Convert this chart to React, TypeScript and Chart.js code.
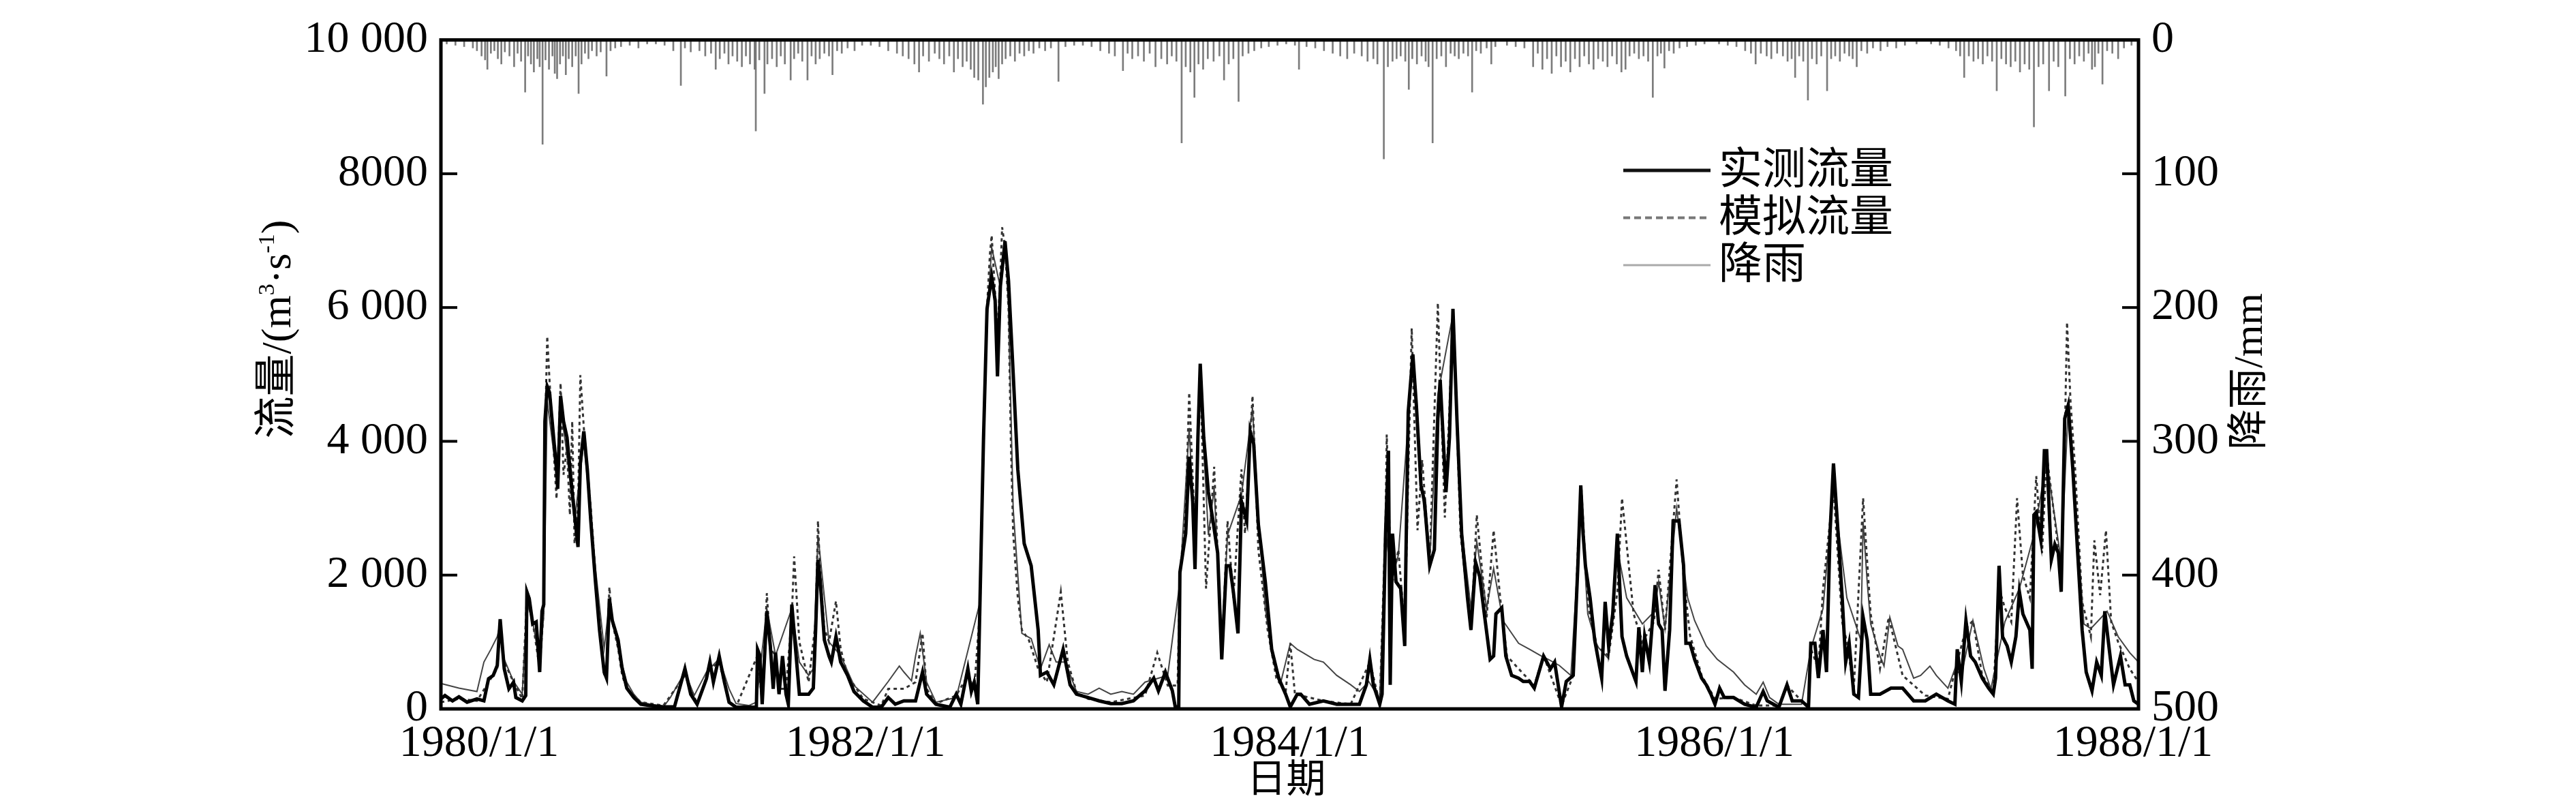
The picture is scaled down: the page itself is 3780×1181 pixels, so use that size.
import React, { useEffect, useRef } from 'react';
import { Chart, registerables } from 'chart.js';

Chart.register(...registerables);

// x = days since 1980/1/1
const xTickDays = [0, 731, 1461, 2192, 2922];
const xTickLabels = ['1980/1/1', '1982/1/1', '1984/1/1', '1986/1/1', '1988/1/1'];
const flowTicks = [0, 2000, 4000, 6000, 8000, 10000];
const flowTickLabels = ['0', '2 000', '4 000', '6 000', '8000', '10 000'];
const rainTicks = [0, 100, 200, 300, 400, 500];
const rainTickLabels = ['0', '100', '200', '300', '400', '500'];
const legendLabels = ['实测流量', '模拟流量', '降雨'];
const xTitle = '日期';
const rainTitle = '降雨/mm';

// 实测流量 [day, m3/s]
const observed = [
  [0,150],[7,200],[20,120],[31,180],[45,100],[62,150],[74,120],[82,450],[90,500],[97,650],[102,1340],[109,600],[117,300],[125,400],[129,170],[140,120],[146,200],[148,1750],[152,1650],[158,1270],[164,1300],[170,550],[174,1460],[177,1560],[179,4300],[183,4820],[187,4730],[199,3580],[201,3290],[206,4680],[211,4300],[217,4060],[226,3240],[236,2420],[240,3670],[246,4150],[252,3580],[258,2810],[266,1900],[273,1180],[281,550],[285,460],[290,1650],[295,1320],[305,1030],[312,600],[320,310],[332,170],[344,70],[359,50],[383,30],[402,30],[420,600],[430,220],[441,70],[457,450],[463,700],[469,400],[479,790],[488,400],[496,100],
  [508,25],[543,25],[545,890],[549,800],[553,70],[561,1460],[567,940],[572,300],[576,840],[582,220],[588,790],[594,220],[598,70],[604,1560],[610,940],[617,220],[633,220],[641,310],[645,1180],[649,2230],[653,1900],[660,1030],[668,790],[672,700],[680,1080],[688,700],[700,500],[711,260],[727,120],[743,25],[758,25],[770,170],[782,70],[797,120],[817,120],[829,550],[836,220],[852,70],[876,25],[887,220],[895,70],[907,600],[913,260],[918,400],[924,70],[928,1650],[934,4060],[940,5980],[948,6460],[954,6100],[958,4970],[963,6320],[971,6990],[977,6400],
  [985,5020],[993,3580],[1004,2470],[1016,2140],[1028,1180],[1032,500],[1043,550],[1055,360],[1071,890],[1083,360],[1094,220],[1114,170],[1133,120],[1153,80],[1172,80],[1192,120],[1212,270],[1227,460],[1235,270],[1247,550],[1259,270],[1264,30],[1270,30],[1272,2040],[1282,2620],[1288,3770],[1294,3100],[1298,2090],[1303,4060],[1307,5160],[1313,4060],[1321,3240],[1329,2810],[1337,2330],[1344,740],[1352,2140],[1358,2140],[1364,1750],[1372,1130],[1378,3100],[1387,2810],[1393,4150],[1399,3960],[1407,2760],[1419,1900],[1430,890],[1442,460],[1454,220],[1462,30],[1474,220],
  [1480,220],[1495,70],[1519,120],[1542,70],[1566,70],[1581,70],[1593,360],[1599,740],[1605,360],[1616,70],[1620,220],[1626,2620],[1631,3860],[1634,360],[1638,2620],[1644,1900],[1652,1800],[1659,940],[1661,2230],[1665,4440],[1673,5300],[1679,4540],[1687,3340],[1693,3100],[1702,2140],[1710,2380],[1716,4340],[1720,4920],[1730,3240],[1736,4060],[1742,5980],[1749,4300],[1757,2620],[1767,1660],[1773,1180],[1781,2190],[1788,1980],[1796,1420],[1806,740],[1812,790],[1816,1420],[1826,1510],[1833,790],[1843,500],[1855,460],[1863,410],[1874,410],[1882,310],[1898,790],[1910,600],[1917,700],[1929,30],[1937,410],[1949,500],[1957,2140],[1962,3340],[1966,2620],
  [1970,2140],[1978,1660],[1986,1030],[1998,460],[2004,1600],[2010,940],[2017,1420],[2025,2620],[2033,1080],[2041,790],[2049,600],[2057,410],[2062,1220],[2068,550],[2072,1080],[2080,700],[2090,1850],[2096,1270],[2102,1180],[2107,270],[2115,1180],[2121,2810],[2131,2810],[2139,2140],[2143,980],[2150,980],[2158,740],[2170,460],[2178,360],[2186,220],[2193,70],[2201,310],[2209,170],[2225,170],[2244,70],[2264,25],[2276,260],[2283,120],[2303,25],[2317,360],[2326,120],[2342,120],[2354,25],[2358,980],[2365,980],[2371,460],[2379,1180],[2385,550],[2391,2620],[2397,3670],[2405,2620],[2412,1660],[2418,700],[2424,980],[2432,220],[2440,170],[2448,1370],[2455,1030],
  [2461,220],[2477,220],[2496,310],[2516,310],[2535,120],[2555,120],[2574,220],[2594,120],[2606,70],[2610,890],[2617,410],[2625,1320],[2633,790],[2641,700],[2653,460],[2664,310],[2672,220],[2676,460],[2682,2140],[2688,1080],[2696,940],[2703,700],[2711,1080],[2717,1750],[2723,1420],[2735,1180],[2739,600],[2742,2900],[2746,2940],[2754,2520],[2760,3860],[2764,3860],[2772,2230],[2778,2460],[2784,2330],[2789,1750],[2795,4340],[2801,4540],[2809,3580],[2817,2380],[2825,1180],[2832,550],[2842,270],[2850,700],[2858,500],[2864,1460],[2871,940],[2879,360],[2891,790],[2899,360],[2907,360],[2914,120],[2922,70],
];

// 模拟流量 [day, m3/s]
const simulated = [
  [0,100],[31,150],[62,120],[82,400],[97,600],[102,1200],[109,700],[125,400],[140,150],[148,1700],[158,1300],[170,600],[177,1500],[180,4400],[183,5570],[187,4900],[199,3140],[206,4870],[211,3500],[217,3900],[222,2900],[226,4300],[230,2470],[236,3000],[240,4990],[246,4200],[258,3000],[266,2000],[273,1200],[281,500],[285,600],[290,1820],[295,1300],[305,900],[312,500],[320,300],[344,100],[383,50],[420,500],[441,80],[463,600],[479,700],[496,100],
  [508,30],[545,800],[553,100],[561,1730],[567,900],[576,800],[582,300],[594,300],[604,1400],[608,2280],[617,1000],[633,400],[645,1300],[649,2810],[653,2000],[660,1200],[668,1000],[680,1610],[688,900],[700,500],[727,150],[758,50],[770,300],[797,300],[817,400],[829,1130],[836,300],[852,80],[887,200],[907,500],[918,300],[928,1500],[934,4000],[940,6000],[945,6800],[948,7080],[954,6200],[958,5600],[963,6500],[966,7200],[971,6900],[977,5980],[981,4000],[985,2620],[993,1660],[1000,1180],[1012,1030],[1028,600],[1043,400],[1067,1750],[1079,700],[1094,250],
  [1114,150],[1153,100],[1212,200],[1233,840],[1251,350],[1268,350],[1272,2000],[1282,3000],[1288,4730],[1298,2620],[1307,5110],[1317,1800],[1331,3620],[1344,790],[1354,2810],[1364,1660],[1378,3580],[1384,2620],[1397,4680],[1407,2380],[1423,1180],[1438,460],[1454,250],[1462,980],[1470,220],
  [1480,200],[1519,120],[1566,70],[1599,700],[1616,80],[1626,2800],[1628,4100],[1636,1800],[1648,2380],[1659,1200],[1671,5690],[1681,2670],[1689,3720],[1702,2190],[1716,6070],[1728,2860],[1736,4500],[1742,5980],[1755,2620],[1773,1180],[1783,2900],[1800,1370],[1812,2670],[1824,1600],[1835,790],[1855,600],[1882,350],[1898,800],[1929,50],[1949,500],[1957,2400],[1963,3300],
  [1974,1560],[1990,940],[2010,790],[2025,1750],[2033,3150],[2053,1420],[2068,1000],[2088,1300],[2096,2080],[2107,1180],[2127,3430],[2139,1980],[2150,1100],[2170,500],[2193,150],[2225,170],[2264,50],[2303,50],[2317,350],[2342,120],[2354,50],[2358,900],[2371,600],[2379,1800],[2397,3290],[2412,1300],[2420,1000],[2432,300],[2448,3150],
  [2455,2200],[2461,1420],[2477,600],[2492,1370],[2516,500],[2555,200],[2594,150],[2610,700],[2625,1200],[2637,1320],[2653,500],[2672,250],[2682,1800],[2692,1510],[2703,1300],[2713,3150],[2723,2000],[2735,1660],[2746,3480],[2756,2330],[2764,3800],[2784,2400],[2789,2000],[2795,4000],[2799,5780],[2805,4600],[2813,3580],[2825,1600],[2840,1080],[2846,2520],[2856,1700],[2866,2670],[2875,1300],[2887,1000],[2907,600],[2922,400],
];

// thin solid line in the flow panel [day, m3/s]
const thinFlow = [
  [0,380],[31,310],[62,260],[74,700],[86,890],[97,1080],[102,1280],[109,740],[125,410],[140,220],[148,1600],[158,1300],[170,700],[177,1400],[183,4600],[199,3500],[206,4500],[217,3800],[230,2800],[246,4000],[266,2100],[281,900],[290,1600],[305,900],[320,400],[332,220],[344,100],[383,30],[395,170],[420,550],[436,200],[457,550],[479,750],[496,300],
  [508,80],[530,50],[543,100],[561,1500],[576,800],[604,1500],[617,700],[633,500],[641,600],[649,2600],[668,1000],[688,800],[711,350],[743,100],[770,410],[789,640],[797,550],[810,420],[817,790],[825,1130],[836,400],[852,100],[887,170],[928,1600],[940,5800],[948,6900],[963,6300],[971,7000],[977,6000],[985,3000],[1000,1130],[1016,1050],[1032,600],[1047,960],[1059,700],[1075,700],[1094,260],
  [1114,220],[1133,310],[1153,220],[1172,260],[1192,220],[1212,400],[1251,500],[1272,1900],[1288,4200],[1298,2400],[1307,4900],[1321,2600],[1331,3300],[1344,1000],[1354,2600],[1378,3200],[1397,4500],[1407,2900],[1419,1510],[1430,840],[1446,410],[1462,980],[1474,890],
  [1484,840],[1503,740],[1519,700],[1542,500],[1566,360],[1581,260],[1597,410],[1616,150],[1626,2700],[1636,1900],[1648,2300],[1665,4300],[1673,5300],[1687,3400],[1702,2200],[1716,4700],[1742,5900],[1757,2700],[1773,1500],[1783,2500],[1800,1500],[1812,2100],[1828,1320],[1855,980],[1874,890],[1894,790],[1906,740],[1925,650],[1945,500],[1957,2200],[1962,3100],
  [1974,1420],[1990,940],[2010,750],[2025,2400],[2041,1660],[2068,1270],[2088,1450],[2096,1900],[2107,1200],[2127,3000],[2146,1660],[2158,1320],[2178,940],[2197,740],[2225,550],[2244,360],[2264,220],[2276,400],[2287,170],[2303,70],[2342,70],[2358,900],[2379,1500],[2397,3300],[2420,1660],[2444,1030],[2448,2800],[2455,1900],
  [2461,1270],[2477,790],[2484,640],[2494,1370],[2508,940],[2516,890],[2535,460],[2547,500],[2563,640],[2574,500],[2594,310],[2606,600],[2617,500],[2637,1320],[2656,600],[2668,300],[2692,1300],[2717,1800],[2742,2600],[2764,3700],[2789,2200],[2801,4500],[2817,2600],[2828,1270],[2840,1200],[2868,1460],[2887,1080],[2907,840],[2922,700],
];

// 降雨 [day, mm]
const rainfall = [
  [10,3],[25,4],[40,5],[55,6],[62,8],[70,12],[76,15],[80,22],[86,10],[92,8],[98,14],[104,18],[110,9],[118,12],[126,20],[132,10],[138,16],[145,39],[150,12],[155,18],[160,24],[166,14],[170,20],[175,78],[180,15],[186,22],[192,12],[196,25],[200,29],[205,18],[210,12],[215,26],[220,14],[226,20],[232,12],[237,40],[242,18],[248,10],[254,14],[260,8],[268,12],[275,9],[285,27],[292,8],[300,6],[310,5],[325,4],[340,6],[355,3],
  [370,3],[385,4],[400,8],[413,34],[420,6],[430,9],[445,8],[455,12],[465,10],[473,22],[480,14],[488,10],[495,18],[502,12],[510,16],[518,20],[525,12],[532,18],[540,22],[542,68],[548,15],[557,40],[562,18],[570,14],[578,20],[585,12],[592,18],[602,30],[608,14],[615,10],[622,16],[631,30],[638,12],[645,18],[652,14],[660,10],[668,12],[674,26],[682,8],[690,10],[700,6],[712,8],[725,4],
  [740,4],[755,5],[770,8],[785,10],[795,12],[805,14],[815,18],[823,24],[830,12],[840,16],[850,10],[858,14],[866,18],[875,12],[883,24],[890,14],[898,20],[905,16],[912,22],[918,28],[925,30],[933,48],[938,35],[944,28],[950,24],[955,20],[960,29],[966,18],[972,14],[980,12],[988,16],[996,10],[1004,12],[1012,8],[1020,10],[1030,6],[1040,8],[1050,6],[1063,31],[1075,5],[1090,4],
  [1105,4],[1120,5],[1135,8],[1150,10],[1160,12],[1174,23],[1182,10],[1190,14],[1200,12],[1210,16],[1220,10],[1230,20],[1240,14],[1250,18],[1258,12],[1266,16],[1275,77],[1282,20],[1290,24],[1297,43],[1304,18],[1312,22],[1320,14],[1330,16],[1340,12],[1348,30],[1356,18],[1364,14],[1373,46],[1380,12],[1390,10],[1400,8],[1412,6],[1425,5],[1440,4],[1455,3],
  [1470,4],[1477,22],[1490,5],[1505,6],[1520,8],[1535,10],[1548,12],[1560,14],[1572,10],[1585,12],[1595,16],[1605,14],[1612,18],[1623,89],[1630,20],[1638,16],[1645,14],[1652,12],[1660,16],[1666,37],[1672,14],[1680,18],[1688,12],[1695,16],[1700,20],[1707,77],[1714,14],[1722,12],[1730,20],[1738,10],[1745,12],[1752,14],[1760,10],[1768,12],[1775,39],[1782,8],[1790,10],[1800,6],[1808,18],[1815,5],
  [1835,4],[1850,5],[1865,6],[1880,20],[1888,10],[1896,22],[1904,14],[1912,25],[1920,12],[1928,20],[1936,16],[1944,24],[1952,14],[1960,20],[1968,12],[1976,18],[1984,22],[1992,14],[2000,16],[2008,20],[2016,12],[2024,18],[2032,24],[2039,22],[2046,12],[2054,10],[2062,14],[2070,12],[2078,16],[2086,43],[2094,12],[2100,10],[2106,21],[2114,8],[2122,10],[2132,6],[2145,5],[2160,4],[2175,3],
  [2200,3],[2215,4],[2230,5],[2245,8],[2255,10],[2263,18],[2272,10],[2282,12],[2290,14],[2300,10],[2310,12],[2318,16],[2325,14],[2331,28],[2338,12],[2345,16],[2353,45],[2360,14],[2368,18],[2376,12],[2386,38],[2393,14],[2400,12],[2408,16],[2416,10],[2424,12],[2430,14],[2437,20],[2445,8],[2455,10],[2465,6],[2478,8],[2490,5],[2505,6],[2520,4],[2540,3],
  [2565,3],[2580,4],[2595,6],[2608,8],[2615,12],[2622,28],[2630,12],[2638,16],[2646,14],[2654,18],[2662,12],[2670,16],[2678,38],[2686,14],[2694,18],[2702,20],[2710,16],[2718,24],[2726,18],[2734,22],[2742,65],[2750,20],[2758,18],[2768,38],[2776,16],[2784,20],[2796,42],[2804,14],[2812,18],[2820,12],[2828,16],[2836,10],[2842,22],[2847,20],[2853,10],[2860,33],[2868,8],[2877,10],[2887,14],[2897,6],[2910,4],
];

const SERIF = '"Liberation Serif", "Times New Roman", "Noto Sans CJK SC", serif';
const CJK = '"Noto Sans CJK SC", "Liberation Serif", sans-serif';

const toXY = (arr: number[][]) => arr.map(([x, y]) => ({ x, y }));

type Run = { t: string; sup?: boolean };

function drawRuns(ctx: CanvasRenderingContext2D, runs: Run[], cx: number, cy: number, rot: number, size: number) {
  ctx.save();
  ctx.translate(cx, cy);
  ctx.rotate(rot);
  ctx.textBaseline = 'middle';
  ctx.textAlign = 'left';
  ctx.fillStyle = '#000';
  const fontFor = (r: Run) => `${r.sup ? Math.round(size * 0.55) : size}px ${SERIF}`;
  let total = 0;
  const widths = runs.map((r) => {
    ctx.font = fontFor(r);
    const w = ctx.measureText(r.t).width;
    total += w;
    return w;
  });
  let x = -total / 2;
  runs.forEach((r, i) => {
    ctx.font = fontFor(r);
    ctx.fillText(r.t, x, r.sup ? -size * 0.28 : 0);
    x += widths[i];
  });
  ctx.restore();
}

const decorPlugin = {
  id: 'decor',
  afterDraw(chart: any) {
    const { ctx, chartArea: a, scales } = chart;
    ctx.save();
    // inward ticks
    ctx.strokeStyle = '#000';
    ctx.lineWidth = 4;
    const yS = scales.y;
    const rS = scales.y2;
    flowTicks.forEach((v) => {
      if (v <= yS.min || v >= yS.max) return;
      const py = yS.getPixelForValue(v);
      ctx.beginPath();
      ctx.moveTo(a.left, py);
      ctx.lineTo(a.left + 24, py);
      ctx.stroke();
    });
    rainTicks.forEach((v) => {
      if (v <= rS.min || v >= rS.max) return;
      const py = rS.getPixelForValue(v);
      ctx.beginPath();
      ctx.moveTo(a.right, py);
      ctx.lineTo(a.right - 24, py);
      ctx.stroke();
    });
    // frame
    ctx.lineWidth = 5;
    ctx.strokeRect(a.left, a.top, a.right - a.left, a.bottom - a.top);

    // x tick labels
    ctx.fillStyle = '#000';
    ctx.font = `66px ${SERIF}`;
    ctx.textBaseline = 'middle';
    ctx.textAlign = 'center';
    const xS = scales.x;
    xTickDays.forEach((d, i) => {
      let px = xS.getPixelForValue(d);
      if (i === 0) px += 56;
      if (i === xTickDays.length - 1) px -= 8;
      ctx.fillText(xTickLabels[i], px, a.bottom + 52);
    });
    // x title
    ctx.font = `58px ${CJK}`;
    ctx.fillText(xTitle, (a.left + a.right) / 2 - 5, a.bottom + 100);

    // left title
    drawRuns(
      ctx,
      [{ t: '流量/(m' }, { t: '3', sup: true }, { t: '·s' }, { t: '-1', sup: true }, { t: ')' }],
      410,
      483,
      -Math.PI / 2,
      62
    );
    // right title
    ctx.save();
    ctx.translate(a.right + 165, 545);
    ctx.rotate(-Math.PI / 2);
    ctx.font = `60px ${SERIF}`;
    ctx.textAlign = 'center';
    ctx.textBaseline = 'middle';
    ctx.fillText(rainTitle, 0, 0);
    ctx.restore();

    // legend
    const styles = [
      { color: '#111', width: 5, dash: [] as number[] },
      { color: '#777', width: 4, dash: [10, 6] },
      { color: '#aaa', width: 3, dash: [] as number[] },
    ];
    legendLabels.forEach((lab, i) => {
      const ly = 250 + i * 69.5;
      const s = styles[i];
      ctx.strokeStyle = s.color;
      ctx.lineWidth = s.width;
      ctx.setLineDash(s.dash);
      ctx.beginPath();
      ctx.moveTo(2382, ly);
      ctx.lineTo(2510, ly);
      ctx.stroke();
      ctx.setLineDash([]);
      ctx.fillStyle = '#000';
      ctx.font = `64px ${CJK}`;
      ctx.textAlign = 'left';
      ctx.textBaseline = 'middle';
      ctx.fillText(lab, 2522, ly - 5);
    });
    ctx.restore();
  },
};

export default function App() {
  const ref = useRef<HTMLCanvasElement | null>(null);

  useEffect(() => {
    document.body.style.margin = '0';
    const canvas = ref.current;
    if (!canvas) return;
    const chart = new Chart(canvas, {
      type: 'line',
      data: {
        datasets: [
          {
            label: legendLabels[0],
            data: toXY(observed),
            borderColor: '#000',
            borderWidth: 5,
            pointRadius: 0,
            tension: 0,
            yAxisID: 'y',
            order: 0,
          },
          {
            label: legendLabels[1],
            data: toXY(simulated),
            borderColor: '#333',
            borderWidth: 3,
            borderDash: [5, 5],
            pointRadius: 0,
            tension: 0,
            yAxisID: 'y',
            order: 1,
          },
          {
            label: 'thin',
            data: toXY(thinFlow),
            borderColor: '#444',
            borderWidth: 2,
            pointRadius: 0,
            tension: 0,
            yAxisID: 'y',
            order: 2,
          },
          {
            type: 'bar',
            label: legendLabels[2],
            data: toXY(rainfall),
            backgroundColor: 'rgba(110,110,110,0.9)',
            borderWidth: 0,
            barThickness: 2,
            grouped: false,
            yAxisID: 'y2',
            order: 3,
          } as any,
        ],
      },
      options: {
        animation: false,
        responsive: false,
        devicePixelRatio: 1,
        layout: { padding: { top: 46, left: 0, right: 0, bottom: 0 } },
        plugins: { legend: { display: false }, tooltip: { enabled: false } },
        scales: {
          x: {
            type: 'linear',
            min: 0,
            max: 2922,
            offset: false,
            grid: { display: false, drawTicks: false, offset: false },
            border: { display: false },
            ticks: { display: false },
            afterFit: (s: any) => {
              s.height = 141;
            },
          },
          y: {
            type: 'linear',
            position: 'left',
            min: 0,
            max: 10000,
            grid: { display: false, drawTicks: false },
            border: { display: false },
            afterBuildTicks: (s: any) => {
              s.ticks = flowTicks.map((v) => ({ value: v }));
            },
            ticks: {
              padding: 19,
              color: '#000',
              font: { family: SERIF, size: 66 },
              callback: (v: any) => flowTickLabels[flowTicks.indexOf(Number(v))],
            },
            afterFit: (s: any) => {
              s.width = 647;
            },
          },
          y2: {
            type: 'linear',
            position: 'right',
            min: 0,
            max: 500,
            reverse: true,
            grid: { display: false, drawTicks: false },
            border: { display: false },
            afterBuildTicks: (s: any) => {
              s.ticks = rainTicks.map((v) => ({ value: v }));
            },
            ticks: {
              padding: 19,
              color: '#000',
              font: { family: SERIF, size: 66 },
              callback: (v: any) => rainTickLabels[rainTicks.indexOf(Number(v))],
            },
            afterFit: (s: any) => {
              s.width = 642;
            },
          },
        },
      },
      plugins: [decorPlugin],
    } as any);
    return () => chart.destroy();
  }, []);

  return (
    <div style={{ width: 3780, height: 1181, background: '#fff' }}>
      <canvas ref={ref} width={3780} height={1181} style={{ display: 'block', width: 3780, height: 1181 }} />
    </div>
  );
}
